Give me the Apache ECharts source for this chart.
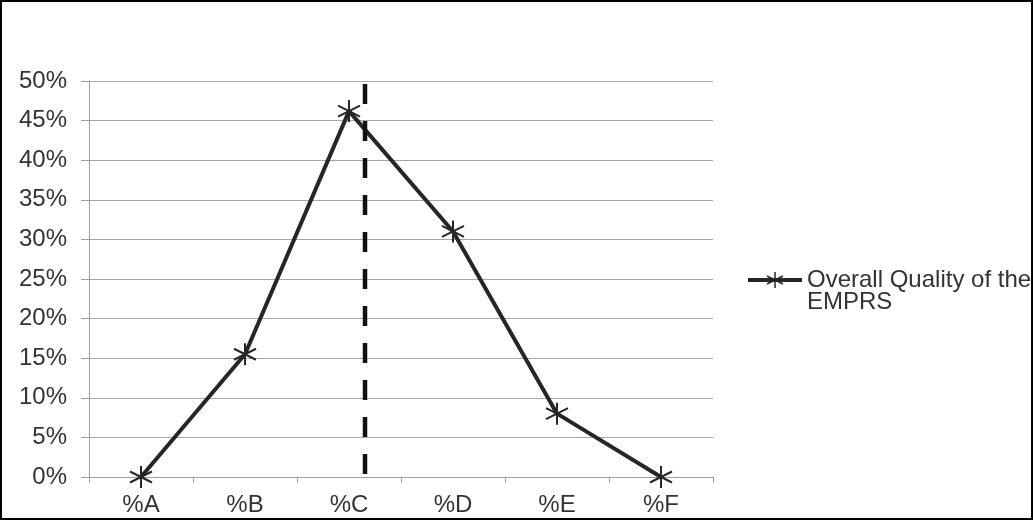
<!DOCTYPE html>
<html><head><meta charset="utf-8">
<script src="https://cdn.jsdelivr.net/npm/echarts@6/dist/echarts.min.js"></script>
<style>
html,body{margin:0;padding:0;background:#fff;}
#c{width:1033px;height:520px;box-sizing:border-box;border:2px solid #000;}
</style></head>
<body><div id="c"></div>
<script>
const categories = ['%A','%B','%C','%D','%E','%F'];
const values = [0, 0.155, 0.462, 0.31, 0.08, 0];
const seriesName = 'Overall Quality of the\nEMPRS';
const dashedPosition = 2.154; // category-index position of the dashed reference line
const dashedRange = [0, 0.5];

const star = 'path://M0,-10L0,10M-8.66,-5L8.66,5M-8.66,5L8.66,-5';
const chart = echarts.init(document.getElementById('c'), null, {renderer:'canvas'});
const font = 'Liberation Sans, Arial, sans-serif';
chart.setOption({
  animation:false,
  grid:{left:87, right:318, top:79, bottom:41, containLabel:false},
  legend:{
    data:[seriesName], left:739, top:239, orient:'vertical',
    itemWidth:54, itemHeight:20, itemGap:0,
    lineStyle:{width:4, color:'#262626'},
    itemStyle:{borderWidth:1.5},
    formatter: n => '{e|}\n{t|' + n.split('\n').join('}\n{t|') + '}',
    textStyle:{fontFamily:font, fontSize:24, color:'#333', lineHeight:22,
      rich:{e:{height:22, lineHeight:22}, t:{fontFamily:font, fontSize:24, color:'#333', lineHeight:22}}},
    inactiveColor:'#333'
  },
  xAxis:[{
    type:'category', data:categories, boundaryGap:true,
    axisLine:{onZero:false, lineStyle:{color:'#a0a0a0', width:1}},
    axisTick:{show:true, length:6, lineStyle:{color:'#a0a0a0'}},
    axisLabel:{fontFamily:font, fontSize:24, color:'#333', margin:16},
    splitLine:{show:false}
  },{
    type:'value', min:-0.5, max:5.5, show:false
  }],
  yAxis:{
    type:'value', min:0, max:0.5, interval:0.05,
    axisLine:{show:true, onZero:false, lineStyle:{color:'#a0a0a0'}},
    axisTick:{show:true, length:8, lineStyle:{color:'#a0a0a0'}},
    axisLabel:{fontFamily:font, fontSize:24, color:'#333', margin:22,
      formatter:v=>Math.round(v*100)+'%'},
    splitLine:{show:true, lineStyle:{color:'#a6a6a6', width:1}}
  },
  series:[{
    name:seriesName, type:'line', data:values, xAxisIndex:0,
    symbol:star, symbolSize:22,
    lineStyle:{color:'#262626', width:4},
    itemStyle:{color:'#262626', borderColor:'#262626', borderWidth:2},
    z:3
  },{
    name:'ref', type:'line', xAxisIndex:1,
    data:[[dashedPosition, dashedRange[0]],[dashedPosition, dashedRange[1]]],
    symbol:'none', silent:true,
    lineStyle:{color:'#111', width:4.5, type:[20,17], dashOffset:-3},
    z:4
  }]
});
</script></body></html>
